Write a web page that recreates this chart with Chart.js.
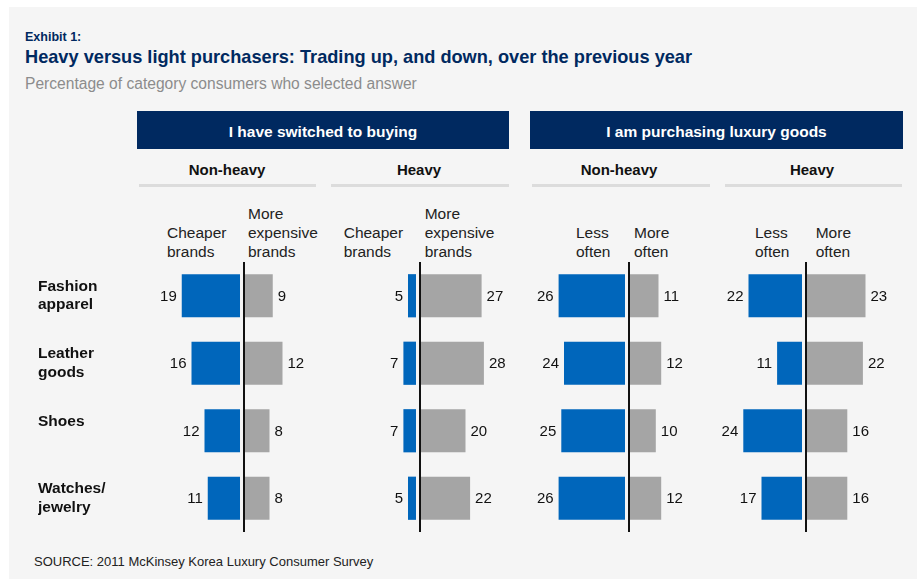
<!DOCTYPE html>
<html lang="en">
<head>
<meta charset="UTF-8">
<title>Heavy versus light purchasers</title>
<script src="https://cdn.jsdelivr.net/npm/chart.js@4/dist/chart.umd.min.js"></script>
<style>
body{margin:0;background:#fff;font-family:Arial,"Liberation Sans",sans-serif;}
#page{position:absolute;left:9px;top:7px;width:908px;height:572px;background:#f5f5f5;}
.t{position:absolute;white-space:nowrap;line-height:1;}
.navy{color:#002960;}
.bar{position:absolute;top:111px;height:36px;padding-top:2px;background:#002960;color:#fff;font-weight:bold;font-size:15.5px;line-height:38px;text-align:center;}
.sub{position:absolute;top:162.3px;width:200px;text-align:center;font-weight:bold;font-size:15px;line-height:1;color:#111;}
.rule{position:absolute;top:184px;height:3px;background:#dcdcdc;}
.col{position:absolute;font-size:15.5px;line-height:18.7px;color:#222;white-space:nowrap;}
canvas{position:absolute;top:262px;}
</style>
</head>
<body>
<div id="page"></div>
<div class="t navy" style="left:25px;top:31.4px;font-size:12.5px;font-weight:bold">Exhibit 1:</div>
<div class="t navy" style="left:25px;top:48.2px;font-size:18.2px;font-weight:bold">Heavy versus light purchasers: Trading up, and down, over the previous year</div>
<div class="t" style="left:25px;top:76.2px;font-size:15.6px;color:#8c8c8c">Percentage of category consumers who selected answer</div>

<div class="bar" style="left:137px;width:372px">I have switched to buying</div>
<div class="bar" style="left:530px;width:373px">I am purchasing luxury goods</div>

<div class="sub" style="left:127px">Non-heavy</div>
<div class="sub" style="left:319px">Heavy</div>
<div class="sub" style="left:519px">Non-heavy</div>
<div class="sub" style="left:712px">Heavy</div>
<div class="rule" style="left:139px;width:177px"></div>
<div class="rule" style="left:331px;width:178px"></div>
<div class="rule" style="left:532px;width:178px"></div>
<div class="rule" style="left:725px;width:177px"></div>

<div class="col" style="left:167px;top:224px">Cheaper<br>brands</div>
<div class="col" style="left:248px;top:205.3px">More<br>expensive<br>brands</div>
<div class="col" style="left:343.7px;top:224px">Cheaper<br>brands</div>
<div class="col" style="left:424.7px;top:205.3px">More<br>expensive<br>brands</div>
<div class="col" style="left:576px;top:224px">Less<br>often</div>
<div class="col" style="left:634px;top:224px">More<br>often</div>
<div class="col" style="left:755px;top:224px">Less<br>often</div>
<div class="col" style="left:815.7px;top:224px">More<br>often</div>

<canvas id="c1" width="290" height="270" style="left:38px"></canvas>
<canvas id="c2" width="190" height="270" style="left:332px"></canvas>
<canvas id="c3" width="190" height="270" style="left:525px"></canvas>
<canvas id="c4" width="197" height="270" style="left:715px"></canvas>

<div class="t" style="left:34px;top:555px;font-size:13px;color:#222">SOURCE: 2011 McKinsey Korea Luxury Consumer Survey</div>

<script>
// categories (second empty line keeps "Shoes" top-aligned like the other labels)
const categories = [['Fashion','apparel'],['Leather','goods'],['Shoes',''],['Watches/','jewelry']];

// "I have switched to buying"
const switchNonHeavyCheaper = [19, 16, 12, 11];
const switchNonHeavyExpensive = [9, 12, 8, 8];
const switchHeavyCheaper = [5, 7, 7, 5];
const switchHeavyExpensive = [27, 28, 20, 22];

// "I am purchasing luxury goods"
const luxNonHeavyLess = [26, 24, 25, 26];
const luxNonHeavyMore = [11, 12, 10, 12];
const luxHeavyLess = [22, 11, 24, 17];
const luxHeavyMore = [23, 22, 16, 16];

const BLUE = '#0066bb', GRAY = '#a5a5a5', BG = '#f5f5f5', INK = '#111';
const FONT = 'Arial, "Liberation Sans", sans-serif';

// axis line at zero + value labels at bar ends
const axisAndLabels = {
  id: 'axisAndLabels',
  afterDatasetsDraw(chart) {
    const {ctx, chartArea: a, scales: {x}} = chart;
    const x0 = Math.round(x.getPixelForValue(0));
    ctx.save();
    ctx.fillStyle = BG;
    ctx.fillRect(x0 - 4, a.top, 3, a.bottom - a.top);
    ctx.fillStyle = INK;
    ctx.fillRect(x0 - 1, a.top, 2, a.bottom - a.top);
    ctx.font = '15px ' + FONT;
    ctx.textBaseline = 'middle';
    chart.data.datasets.forEach((ds, i) => {
      chart.getDatasetMeta(i).data.forEach((bar, j) => {
        const v = ds.data[j];
        ctx.textAlign = v < 0 ? 'right' : 'left';
        ctx.fillText(String(Math.abs(v)), bar.x + (v < 0 ? -5 : 5), bar.y + 1);
      });
    });
    ctx.restore();
  }
};

function panel(id, left, width, zeroX, ppu, leftVals, rightVals, showCats) {
  const axisW = showCats ? 107 : 0;
  const areaLeft = left + axisW, areaRight = left + width;
  new Chart(document.getElementById(id), {
    type: 'bar',
    data: {
      labels: categories,
      datasets: [
        {data: leftVals.map(v => -v), backgroundColor: BLUE, barPercentage: 0.64, categoryPercentage: 1},
        {data: rightVals, backgroundColor: GRAY, barPercentage: 0.64, categoryPercentage: 1}
      ]
    },
    options: {
      indexAxis: 'y',
      responsive: false,
      animation: false,
      devicePixelRatio: 1,
      layout: {padding: 0},
      plugins: {legend: {display: false}, tooltip: {enabled: false}},
      scales: {
        x: {
          display: false, stacked: true,
          min: -(zeroX - areaLeft) / ppu,
          max: (areaRight - zeroX) / ppu
        },
        y: {
          display: showCats, stacked: true,
          grid: {display: false}, border: {display: false},
          ticks: {
            crossAlign: 'far', padding: 0, color: INK,
            font: {family: FONT, size: 15.5, weight: 'bold', lineHeight: 1.2}
          },
          afterFit(s) { s.width = axisW; s.paddingTop = 0; s.paddingBottom = 0; }
        }
      }
    },
    plugins: [axisAndLabels]
  });
}

panel('c1', 38, 290, 243.5, 3.25, switchNonHeavyCheaper, switchNonHeavyExpensive, true);
panel('c2', 332, 190, 419.5, 2.3, switchHeavyCheaper, switchHeavyExpensive, false);
panel('c3', 525, 190, 628.8, 2.7, luxNonHeavyLess, luxNonHeavyMore, false);
panel('c4', 715, 197, 805.7, 2.6, luxHeavyLess, luxHeavyMore, false);
</script>
</body>
</html>
